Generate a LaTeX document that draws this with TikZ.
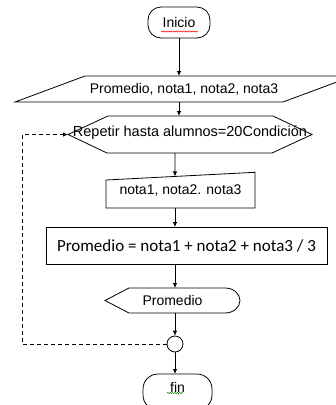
\documentclass[tikz,border=0pt]{standalone}
\usepackage{fontspec}
\setmainfont{Liberation Sans}
\newfontfamily\calibrifont{Carlito}
\usetikzlibrary{arrows.meta,calc,decorations.pathmorphing}

\tikzset{
  shapebox/.style={inner sep=0pt, outer sep=0pt, font=\fontsize{14}{16}\selectfont},
  outline/.style={draw=black, line width=0.8pt},
  flow/.style={draw=black, line width=0.8pt, -{Latex[length=5pt,width=4.5pt]}},
  loopback/.style={flow, dash pattern=on 4pt off 3pt},
  spell/.style={decorate, decoration={snake, amplitude=0.6pt, segment length=2.4pt}, line width=0.5pt},
}

\begin{document}
\begin{tikzpicture}[x=1pt,y=-1pt]
\fill[white] (0,0) rectangle (336,405);
\useasboundingbox (0,0) rectangle (336,405);

% terminal: start
\node[shapebox, outline, rounded corners=13pt, minimum width=62, minimum height=31, text height=10pt, text depth=1pt]
  (ini) at (179,22.5) {Inicio};
\draw[spell, red] (161,31.5) -- (198,31.5);

% data input (parallelogram)
\node[shapebox, minimum width=338, minimum height=26] (inp) at (184,89) {Promedio, nota1, nota2, nota3};
\draw[outline] (inp.south west) -- ($(inp.north west)+(70,0)$) -- (inp.north east)
  -- ($(inp.south east)+(-70,0)$) -- cycle;

% loop preparation (hexagon)
\node[shapebox, minimum width=244, minimum height=37, text height=6pt, text depth=3pt,
  font=\fontsize{14.5}{16}\selectfont] (rep) at (190,134.5)
  {Repetir hasta alumnos=20Condición};
\draw[outline] (rep.west) -- ($(rep.north west)+(40,0)$) -- ($(rep.north east)+(-39,0)$)
  -- (rep.east) -- ($(rep.south east)+(-40,0)$) -- ($(rep.south west)+(39,0)$) -- cycle;

% manual input (slanted top)
\node[shapebox, minimum width=149, minimum height=35.7] (nin) at (180.5,190.15) {nota1, nota2. nota3};
\coordinate (nin-low) at ($(nin.north west)+(0,7.7)$);
\draw[outline] (nin-low) -- (nin.north east) -- (nin.south east) -- (nin.south west) -- cycle;

% process
\node[shapebox, outline, minimum width=281, minimum height=37, font=\calibrifont\fontsize{17}{19}\selectfont]
  (proc) at (186.5,245.5) {Promedio = nota1 + nota2 + nota3 / 3};

% display
\node[shapebox, minimum width=135, minimum height=25] (disp) at (172.5,300.5) {Promedio};
\draw[outline] (disp.west) -- ($(disp.north west)+(24,0)$) -- ($(disp.north east)+(-15,0)$)
  arc[start angle=-90, end angle=90, x radius=15, y radius=12.5]
  -- ($(disp.south west)+(24,0)$) -- cycle;

% connector circle
\node[outline, circle, minimum size=16, inner sep=0pt] (con) at (175,344) {};

% terminal: end
\node[shapebox, outline, rounded corners=15pt, minimum width=69, minimum height=36, text height=6pt, text depth=6pt]
  (fin) at (177.5,392) {fin};
\draw[spell, green!50!black] (167,393) -- (183,393);

% flow lines
\draw[flow] (ini.south) -- (ini.south |- inp.north);
\draw[flow] (ini.south |- inp.south) -- (ini.south |- rep.north);
\draw[flow] (con |- rep.south) -- ($(nin-low)!0.463!(nin.north east)$);
\draw[flow] (con |- nin.south) -- (con |- proc.north);
\draw[flow] (con |- proc.south) -- (con |- disp.north);
\draw[flow] (con |- disp.south) -- (con.north);
\draw[flow] (con.south) -- (con |- fin.north);
\draw[loopback] (con.west) -| ([xshift=-46pt]rep.west) -- (rep.west);
\end{tikzpicture}
\end{document}
